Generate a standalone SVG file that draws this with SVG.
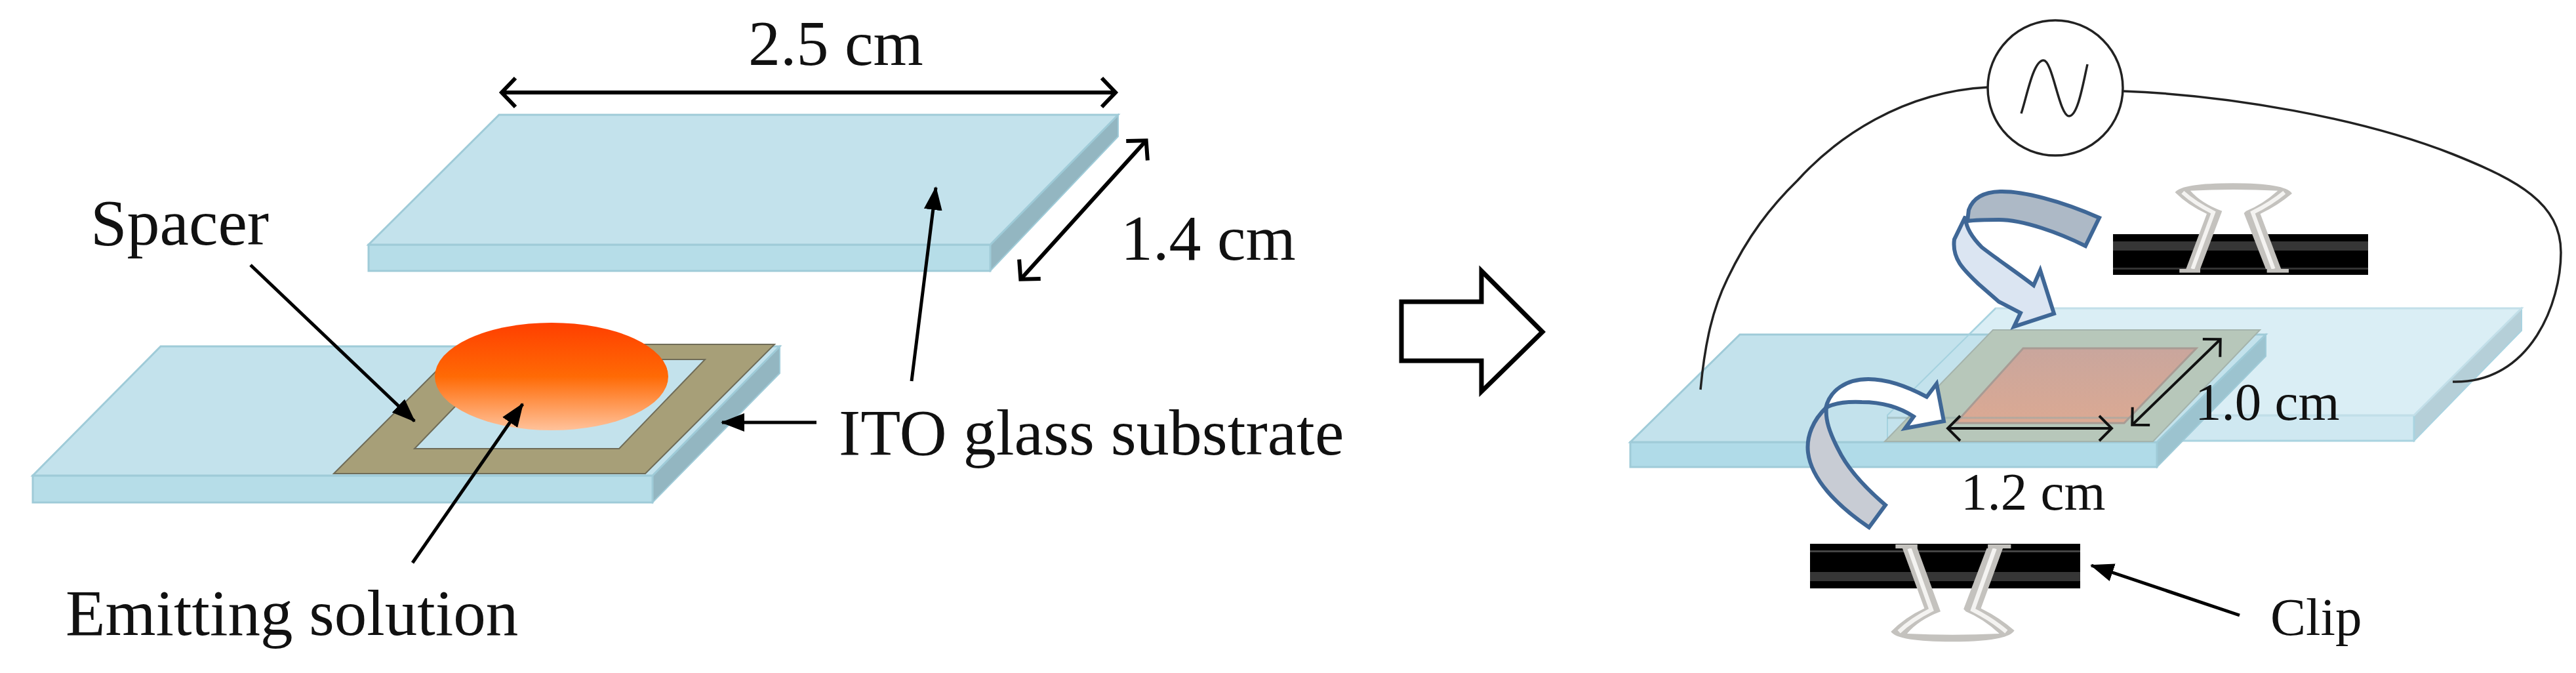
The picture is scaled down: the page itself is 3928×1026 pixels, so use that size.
<svg xmlns="http://www.w3.org/2000/svg" width="3928" height="1026" viewBox="0 0 3928 1026">
<style>
text{font-family:"Liberation Serif","Times New Roman",serif;fill:#111}
.l{font-size:98px}.m{font-size:100px}.s{font-size:81px}
.top{fill:#c3e2ec;stroke:#9fcbd8;stroke-width:3}
.front{fill:#b6dde8;stroke:#9fcbd8;stroke-width:3}
.side{fill:#93b6c1;stroke:#9fcbd8;stroke-width:2}
.solid{fill:none;stroke:#000;stroke-width:5;marker-end:url(#sol)}
.dim{fill:none;stroke:#000;stroke-width:6;marker-start:url(#opS);marker-end:url(#opE)}
.dim2{fill:none;stroke:#111;stroke-width:4;marker-start:url(#opS2);marker-end:url(#opE2)}
.wire{fill:none;stroke:#222;stroke-width:3.5}
.ba{stroke:#3f6796;stroke-width:6;stroke-linejoin:miter}
.cw{fill:#c4c2be}
.cl{fill:none;stroke:#f4f3f1;stroke-width:18}
</style>
<defs>
<marker id="sol" markerUnits="userSpaceOnUse" markerWidth="40" markerHeight="32" refX="34" refY="16" orient="auto"><path d="M0 2L36 16L0 30Z" fill="#000"/></marker>
<marker id="opE" markerUnits="userSpaceOnUse" markerWidth="40" markerHeight="52" refX="32" refY="26" orient="auto"><path d="M12 4L33 26L12 48" fill="none" stroke="#000" stroke-width="6"/></marker>
<marker id="opS" markerUnits="userSpaceOnUse" markerWidth="40" markerHeight="52" refX="8" refY="26" orient="auto"><path d="M28 4L7 26L28 48" fill="none" stroke="#000" stroke-width="6"/></marker>
<marker id="opE2" markerUnits="userSpaceOnUse" markerWidth="32" markerHeight="44" refX="26" refY="22" orient="auto"><path d="M8 3L27 22L8 41" fill="none" stroke="#111" stroke-width="4"/></marker>
<marker id="opS2" markerUnits="userSpaceOnUse" markerWidth="32" markerHeight="44" refX="6" refY="22" orient="auto"><path d="M24 3L5 22L24 41" fill="none" stroke="#111" stroke-width="4"/></marker>
<linearGradient id="drop" x1="0" y1="0" x2="0" y2="1"><stop offset="0" stop-color="#ff3f00"/><stop offset=".5" stop-color="#ff6a05"/><stop offset="1" stop-color="#ffc29b"/></linearGradient>
<linearGradient id="pink" x1="0" y1="0" x2="0" y2="1"><stop offset="0" stop-color="#c9a69d"/><stop offset="1" stop-color="#dba993"/></linearGradient>
<path id="clipwire" d="M460 480L555 228Q470 190 410 130Q440 88 675 88Q915 88 945 135Q880 190 800 228L895 480L825 480L725 225L735 215Q810 185 880 122Q675 112 480 122Q530 180 625 215L525 480Z"/>
</defs>

<g id="top-plate">
<polygon class="side" points="1705,175 1705,208 1510,413 1510,373"/>
<polygon class="front" points="562,373 1510,373 1510,413 562,413"/>
<polygon class="top" points="761,175 1705,175 1510,373 562,373"/>
</g>
<g id="lower-plate">
<polygon class="side" points="1189,528 1189,569 995,766 995,725"/>
<polygon class="front" points="50,725 995,725 995,766 50,766"/>
<polygon class="top" points="245,528 1189,528 995,725 50,725"/>
</g>
<g id="spacer">
<path d="M509 722L984 722L1181 525L706 525ZM632 684L763 548L1075 548L944 684Z" fill="#a79f78" fill-rule="evenodd" stroke="#6f6c58" stroke-width="2"/>
</g>
<g id="drop-node"><ellipse cx="841" cy="574" rx="178" ry="82" fill="url(#drop)"/></g>

<g id="hollow-arrow"><polygon points="2137,460 2259,460 2259,413 2352,506 2259,597 2259,550 2137,550" fill="#fff" stroke="#000" stroke-width="7"/></g>

<g id="back-plate">
<polygon points="3845,470 3845,504 3681,672 3681,633" fill="#b5cfd8" stroke="#a9d3e0" stroke-width="2"/>
<polygon points="2878,633 3681,633 3681,672 2878,672" fill="#cfe8f1" stroke="#a9d3e0" stroke-width="3"/>
<polygon points="3043,470 3845,470 3681,633 2878,633" fill="#daeef5" stroke="#c2dfe9" stroke-width="3"/>
</g>
<g id="front-plate">
<polygon class="side" points="3455,510 3455,543 3289,712 3289,674" style="fill:#9cc3cf"/>
<polygon class="front" points="2486,674 3289,674 3289,712 2486,712" style="fill:#b0dbe8"/>
<polygon class="top" points="2653,510 3455,510 3289,674 2486,674"/>
<path d="M3043 470L2878 633L2878 672" fill="none" stroke="#a5d2df" stroke-width="2"/>
</g>
<g id="film">
<polygon points="2874,673 3283,673 3446,503 3039,503" fill="#b7c7ba" stroke="#a4b3ac" stroke-width="2"/>
<polygon points="2982,645 3239,645 3349,531 3085,531" fill="url(#pink)" stroke="#a89b94" stroke-width="3"/>
<path d="M2878 637H3246" stroke="#8fa9a8" stroke-width="3" opacity=".5"/>
</g>

<g id="generator">
<circle cx="3134" cy="134" r="103" fill="#fff" stroke="#222" stroke-width="3.5"/>
<path d="M3082 173C3090 150 3100 92 3116 92C3130 92 3140 177 3155 177C3168 177 3176 130 3183 98" fill="none" stroke="#222" stroke-width="3.5"/>
</g>

<g id="upper-clip">
<rect x="3222" y="357" width="389" height="62" fill="#000"/>
<rect x="3222" y="368" width="389" height="14" fill="#363636"/>
<rect x="3222" y="408" width="389" height="3" fill="#333"/>
<g transform="translate(3180,250) scale(.3333)">
<use href="#clipwire" class="cw"/>
<path class="cl" d="M490 480L585 222Q500 180 445 130M860 480L765 222Q850 180 910 130"/>
<rect x="430" y="480" width="95" height="17" fill="#c4c2be"/><rect x="830" y="480" width="100" height="17" fill="#c4c2be"/>
</g>
</g>
<g id="lower-clip">
<rect x="2760" y="829" width="412" height="68" fill="#000"/>
<rect x="2760" y="872" width="412" height="14" fill="#363636"/>
<rect x="2760" y="839" width="412" height="3" fill="#444"/>
<g transform="matrix(.352 0 0 -.3627 2739 1010.2)">
<use href="#clipwire" class="cw"/>
<path class="cl" d="M490 480L585 222Q500 180 445 130M860 480L765 222Q850 180 910 130"/>
<rect x="430" y="480" width="95" height="17" fill="#c4c2be"/><rect x="830" y="480" width="100" height="17" fill="#c4c2be"/>
</g>
</g>

<g id="upper-bent-arrow">
<path class="ba" fill="#adb9c6" d="M3002 320Q3012 292 3053 292C3085 292 3140 305 3201 332L3180 375C3140 355 3085 335 3048 335C3030 335 3015 335 3000 337Z"/>
<path class="ba" fill="#dbe5f2" d="M2997 330L2980 365C2976 395 2995 412 3017 433L3048 460L3081 477L3071 498L3132 478L3111 412L3101 435C3075 415 3045 395 3022 377C3005 360 2998 345 2997 333Z"/>
</g>
<g id="lower-bent-arrow">
<path class="ba" fill="#c8ccd4" d="M2785 621C2765 640 2754 665 2757 690C2762 730 2800 770 2850 804L2875 770C2840 740 2815 710 2803 685C2790 660 2783 640 2785 621Z"/>
<path class="ba" fill="#fff" d="M2784 622C2790 595 2815 578 2849 578C2880 578 2910 590 2938 605L2953 585L2964 642L2905 653L2918 635C2895 620 2870 613 2839 613C2815 612 2795 615 2784 622Z"/>
</g>

<g id="connectors">
<path class="dim" d="M766 141H1700"/>
<path class="dim" d="M1747 215L1557 425"/>
<path class="solid" d="M382 404L632 642"/>
<path class="solid" d="M629 858L797 616"/>
<path class="solid" d="M1390 581L1427 286"/>
<path class="solid" d="M1245 644H1101"/>
<path class="wire" d="M2593 594C2600 520 2612 470 2634 425C2665 360 2700 315 2741 275C2800 210 2900 140 3031 133"/>
<path class="wire" d="M3238 139C3400 145 3600 180 3740 235C3840 275 3905 310 3905 385C3905 460 3860 585 3740 582"/>
<path class="dim2" d="M2971 653H3219"/>
<path class="dim2" d="M3385 518L3252 647"/>
<path class="solid" d="M3415 938L3189 862"/>
</g>

<g id="labels">
<text class="l" x="1141" y="99">2.5 cm</text>
<text class="l" x="1709" y="396">1.4 cm</text>
<text class="m" x="138" y="373">Spacer</text>
<text class="m" x="1279" y="693">ITO glass substrate</text>
<text x="100" y="968" style="font-size:99px">Emitting solution</text>
<text class="s" x="3347" y="640">1.0 cm</text>
<text class="s" x="2990" y="777">1.2 cm</text>
<text class="s" x="3462" y="968">Clip</text>
</g>
</svg>
